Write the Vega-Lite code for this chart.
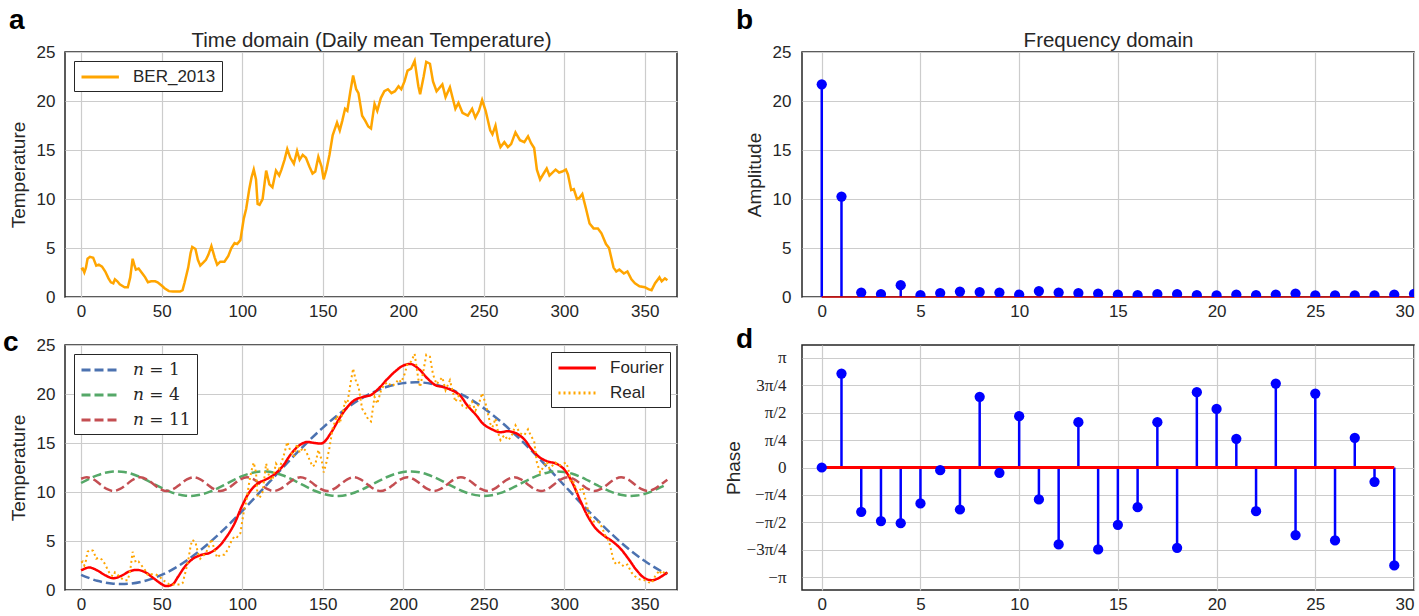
{
  "$schema": "https://vega.github.io/schema/vega-lite/v6.json",
  "background": "white",
  "padding": {"left": 2, "top": 6, "right": 0, "bottom": 0},
  "config": {
    "font": "Liberation Sans",
    "view": {"stroke": "#262626", "strokeWidth": 1.5},
    "axis": {"grid": true, "gridColor": "#cccccc", "gridWidth": 1.2, "domain": false, "ticks": false, "labelFontSize": 17, "labelColor": "#262626", "titleFontSize": 19, "titleFontWeight": "normal", "titleColor": "#262626", "labelFont": "Liberation Sans", "titleFont": "Liberation Sans", "tickCount": 20},
    "axisX": {"labelPadding": 6},
    "axisY": {"labelPadding": 10, "minExtent": 30, "maxExtent": 30},
    "legend": {"labelFontSize": 17, "labelColor": "#262626", "strokeColor": "#262626", "fillColor": "white", "padding": 6, "offset": 9, "symbolStrokeWidth": 3, "symbolType": "M-1,0H3.4", "symbolSize": 289, "labelOffset": 33, "rowPadding": 7, "strokeWidth": 1},
    "title": {"fontSize": 28, "fontWeight": "bold", "anchor": "start", "frame": "bounds", "color": "black", "offset": 0, "font": "Liberation Sans"}
  },
  "datasets": {
    "ber": [
      {"d":0,"t":2.8},{"d":1,"t":2.9},{"d":2,"t":2.5},{"d":3,"t":3.0},{"d":4,"t":3.9},{"d":5.5,"t":4.1},{"d":7.5,"t":4.0},{"d":9.4,"t":3.2},{"d":11,"t":3.3},{"d":13,"t":3.1},{"d":15,"t":2.6},{"d":17,"t":1.9},{"d":18.5,"t":1.5},{"d":20,"t":1.4},{"d":21,"t":1.8},{"d":22.5,"t":1.6},{"d":24,"t":1.3},{"d":27,"t":1.0},{"d":29,"t":1.0},{"d":30.5,"t":2.0},{"d":32,"t":3.9},{"d":33,"t":3.3},{"d":34,"t":2.8},{"d":35.7,"t":2.9},{"d":38.5,"t":2.3},{"d":39.8,"t":2.0},{"d":41.5,"t":1.5},{"d":43.5,"t":1.6},{"d":46,"t":1.6},{"d":47.5,"t":1.5},{"d":49,"t":1.3},{"d":50.5,"t":1.1},{"d":51.8,"t":0.9},{"d":54.5,"t":0.6},{"d":57,"t":0.55},{"d":61.5,"t":0.55},{"d":63,"t":0.7},{"d":64.3,"t":1.5},{"d":66.5,"t":3.0},{"d":68,"t":4.5},{"d":69,"t":5.1},{"d":71,"t":4.9},{"d":72.5,"t":3.8},{"d":74,"t":3.2},{"d":75.8,"t":3.5},{"d":77.5,"t":3.8},{"d":79,"t":4.3},{"d":80.9,"t":5.2},{"d":83,"t":4.0},{"d":84.5,"t":3.3},{"d":86.4,"t":3.6},{"d":89,"t":3.6},{"d":91.4,"t":4.2},{"d":93.3,"t":5.0},{"d":95.3,"t":5.5},{"d":96.9,"t":5.4},{"d":98.9,"t":5.8},{"d":101,"t":8.0},{"d":102.5,"t":9.0},{"d":104.4,"t":11.0},{"d":105.8,"t":12.2},{"d":107.2,"t":13.0},{"d":108.6,"t":12.0},{"d":109.6,"t":9.5},{"d":110.8,"t":9.4},{"d":112.7,"t":10.0},{"d":114.9,"t":12.9},{"d":116.9,"t":11.5},{"d":118.8,"t":11.2},{"d":121,"t":12.9},{"d":123,"t":12.4},{"d":124.4,"t":13.0},{"d":126.3,"t":14.0},{"d":128,"t":15.1},{"d":129.9,"t":14.2},{"d":132.1,"t":13.6},{"d":134.1,"t":14.9},{"d":135.7,"t":14.0},{"d":137.6,"t":14.5},{"d":139.6,"t":14.2},{"d":141.8,"t":13.3},{"d":143.7,"t":12.6},{"d":145.4,"t":12.8},{"d":147.3,"t":14.3},{"d":149.3,"t":13.3},{"d":150.6,"t":12.0},{"d":152.3,"t":13.0},{"d":154.2,"t":14.5},{"d":156.2,"t":16.5},{"d":158.9,"t":17.8},{"d":160.6,"t":17.0},{"d":162.2,"t":18.0},{"d":163.9,"t":19.2},{"d":165.3,"t":19.0},{"d":167.2,"t":21.0},{"d":168.9,"t":22.6},{"d":170.8,"t":21.2},{"d":172.2,"t":20.8},{"d":174.5,"t":18.5},{"d":176.4,"t":18.0},{"d":178.3,"t":17.4},{"d":180,"t":17.2},{"d":182.2,"t":19.7},{"d":183.9,"t":19.0},{"d":186.1,"t":20.3},{"d":188.3,"t":21.0},{"d":190.5,"t":21.2},{"d":192.7,"t":20.8},{"d":194.9,"t":21.0},{"d":197.1,"t":21.5},{"d":198.8,"t":21.2},{"d":200.8,"t":22.0},{"d":202.7,"t":23.1},{"d":204.9,"t":23.3},{"d":207.1,"t":24.1},{"d":209.4,"t":21.5},{"d":210.5,"t":20.7},{"d":212.7,"t":22.5},{"d":214.3,"t":24.0},{"d":216.6,"t":23.8},{"d":218.5,"t":22.0},{"d":220.7,"t":21.0},{"d":224.3,"t":21.7},{"d":226.3,"t":20.4},{"d":229,"t":21.4},{"d":232.4,"t":19.2},{"d":234.3,"t":19.8},{"d":236.8,"t":18.8},{"d":240.1,"t":18.5},{"d":242.8,"t":19.2},{"d":244.8,"t":18.3},{"d":247,"t":19.0},{"d":249,"t":20.1},{"d":251.2,"t":19.0},{"d":254,"t":17.0},{"d":255.4,"t":16.6},{"d":257.3,"t":17.5},{"d":259,"t":16.0},{"d":260.4,"t":15.3},{"d":262.8,"t":15.8},{"d":265,"t":15.3},{"d":267,"t":15.6},{"d":269.7,"t":16.8},{"d":272.5,"t":16.0},{"d":275.2,"t":15.8},{"d":277.5,"t":16.4},{"d":279.4,"t":15.7},{"d":281.3,"t":15.2},{"d":283,"t":13.0},{"d":285,"t":12.0},{"d":287.2,"t":12.6},{"d":289.1,"t":13.1},{"d":290.8,"t":12.4},{"d":292.7,"t":12.7},{"d":294.6,"t":13.0},{"d":296.8,"t":12.7},{"d":298.7,"t":12.8},{"d":301,"t":13.0},{"d":302.3,"t":12.5},{"d":304.3,"t":10.9},{"d":305.9,"t":11.0},{"d":307.9,"t":10.0},{"d":309.3,"t":10.1},{"d":311.2,"t":10.5},{"d":313.5,"t":9.0},{"d":315.7,"t":7.5},{"d":318.2,"t":7.0},{"d":320.9,"t":7.0},{"d":323.1,"t":6.5},{"d":325.9,"t":5.4},{"d":327.8,"t":5.0},{"d":330.6,"t":3.0},{"d":332.3,"t":2.6},{"d":334.2,"t":2.8},{"d":337,"t":2.4},{"d":339.2,"t":2.6},{"d":341.7,"t":1.8},{"d":343.9,"t":1.4},{"d":346.7,"t":1.1},{"d":350,"t":1.0},{"d":352.2,"t":0.8},{"d":354.2,"t":0.7},{"d":356.4,"t":1.4},{"d":359.1,"t":2.0},{"d":360.5,"t":1.6},{"d":362.5,"t":1.9},{"d":364,"t":1.7}
    ],
    "fourier": [
      {"d":0,"t":2.0},{"d":5,"t":2.3},{"d":10,"t":2.0},{"d":15,"t":1.5},{"d":20,"t":1.2},{"d":25,"t":1.45},{"d":30,"t":1.9},{"d":35,"t":2.05},{"d":40,"t":1.8},{"d":45,"t":1.2},{"d":50,"t":0.6},{"d":53,"t":0.4},{"d":57,"t":0.6},{"d":60,"t":1.3},{"d":65,"t":2.5},{"d":70,"t":3.25},{"d":75,"t":3.6},{"d":80,"t":3.8},{"d":85,"t":4.35},{"d":90,"t":5.35},{"d":95,"t":6.7},{"d":100,"t":8.6},{"d":105,"t":10.1},{"d":110,"t":10.9},{"d":115,"t":11.3},{"d":120,"t":11.8},{"d":125,"t":12.6},{"d":130,"t":13.8},{"d":135,"t":14.7},{"d":140,"t":15.1},{"d":145,"t":15.0},{"d":150,"t":15.0},{"d":155,"t":16.0},{"d":160,"t":17.4},{"d":165,"t":18.6},{"d":170,"t":19.4},{"d":175,"t":19.7},{"d":180,"t":19.9},{"d":185,"t":20.6},{"d":190,"t":21.5},{"d":195,"t":22.3},{"d":200,"t":22.9},{"d":205,"t":23.05},{"d":210,"t":22.5},{"d":215,"t":21.6},{"d":220,"t":20.9},{"d":225,"t":20.7},{"d":230,"t":20.4},{"d":235,"t":19.9},{"d":240,"t":18.8},{"d":245,"t":17.9},{"d":250,"t":16.9},{"d":255,"t":16.4},{"d":260,"t":16.1},{"d":265,"t":16.2},{"d":270,"t":16.0},{"d":275,"t":15.4},{"d":280,"t":14.3},{"d":285,"t":13.5},{"d":290,"t":13.1},{"d":295,"t":12.9},{"d":300,"t":12.3},{"d":305,"t":10.95},{"d":310,"t":9.1},{"d":315,"t":7.4},{"d":320,"t":6.2},{"d":325,"t":5.5},{"d":330,"t":4.95},{"d":335,"t":4.2},{"d":340,"t":3.15},{"d":345,"t":2.0},{"d":350,"t":1.2},{"d":355,"t":1.0},{"d":360,"t":1.35},{"d":364,"t":1.8}
    ],
    "comps": [
      {"s":"𝑛 = 1","d":0,"t":1.54},{"s":"𝑛 = 1","d":10,"t":0.94},{"s":"𝑛 = 1","d":20,"t":0.64},{"s":"𝑛 = 1","d":30,"t":0.64},{"s":"𝑛 = 1","d":40,"t":0.94},{"s":"𝑛 = 1","d":50,"t":1.54},{"s":"𝑛 = 1","d":60,"t":2.41},{"s":"𝑛 = 1","d":70,"t":3.54},{"s":"𝑛 = 1","d":80,"t":4.88},{"s":"𝑛 = 1","d":90,"t":6.4},{"s":"𝑛 = 1","d":100,"t":8.06},{"s":"𝑛 = 1","d":110,"t":9.8},{"s":"𝑛 = 1","d":120,"t":11.56},{"s":"𝑛 = 1","d":130,"t":13.32},{"s":"𝑛 = 1","d":140,"t":14.99},{"s":"𝑛 = 1","d":150,"t":16.55},{"s":"𝑛 = 1","d":160,"t":17.94},{"s":"𝑛 = 1","d":170,"t":19.13},{"s":"𝑛 = 1","d":180,"t":20.07},{"s":"𝑛 = 1","d":190,"t":20.74},{"s":"𝑛 = 1","d":200,"t":21.11},{"s":"𝑛 = 1","d":210,"t":21.19},{"s":"𝑛 = 1","d":220,"t":20.96},{"s":"𝑛 = 1","d":230,"t":20.44},{"s":"𝑛 = 1","d":240,"t":19.63},{"s":"𝑛 = 1","d":250,"t":18.56},{"s":"𝑛 = 1","d":260,"t":17.27},{"s":"𝑛 = 1","d":270,"t":15.79},{"s":"𝑛 = 1","d":280,"t":14.17},{"s":"𝑛 = 1","d":290,"t":12.45},{"s":"𝑛 = 1","d":300,"t":10.68},{"s":"𝑛 = 1","d":310,"t":8.92},{"s":"𝑛 = 1","d":320,"t":7.22},{"s":"𝑛 = 1","d":330,"t":5.62},{"s":"𝑛 = 1","d":340,"t":4.18},{"s":"𝑛 = 1","d":350,"t":2.95},{"s":"𝑛 = 1","d":360,"t":1.94},{"s":"𝑛 = 1","d":364,"t":1.61},
      {"s":"𝑛 = 4","d":0,"t":10.92},{"s":"𝑛 = 4","d":5,"t":11.34},{"s":"𝑛 = 4","d":10,"t":11.7},{"s":"𝑛 = 4","d":15,"t":11.96},{"s":"𝑛 = 4","d":20,"t":12.09},{"s":"𝑛 = 4","d":25,"t":12.07},{"s":"𝑛 = 4","d":30,"t":11.92},{"s":"𝑛 = 4","d":35,"t":11.63},{"s":"𝑛 = 4","d":40,"t":11.26},{"s":"𝑛 = 4","d":45,"t":10.83},{"s":"𝑛 = 4","d":50,"t":10.41},{"s":"𝑛 = 4","d":55,"t":10.04},{"s":"𝑛 = 4","d":60,"t":9.77},{"s":"𝑛 = 4","d":65,"t":9.62},{"s":"𝑛 = 4","d":70,"t":9.62},{"s":"𝑛 = 4","d":75,"t":9.76},{"s":"𝑛 = 4","d":80,"t":10.03},{"s":"𝑛 = 4","d":85,"t":10.39},{"s":"𝑛 = 4","d":90,"t":10.81},{"s":"𝑛 = 4","d":95,"t":11.24},{"s":"𝑛 = 4","d":100,"t":11.62},{"s":"𝑛 = 4","d":105,"t":11.9},{"s":"𝑛 = 4","d":110,"t":12.07},{"s":"𝑛 = 4","d":115,"t":12.09},{"s":"𝑛 = 4","d":120,"t":11.97},{"s":"𝑛 = 4","d":125,"t":11.71},{"s":"𝑛 = 4","d":130,"t":11.36},{"s":"𝑛 = 4","d":135,"t":10.94},{"s":"𝑛 = 4","d":140,"t":10.52},{"s":"𝑛 = 4","d":145,"t":10.13},{"s":"𝑛 = 4","d":150,"t":9.83},{"s":"𝑛 = 4","d":155,"t":9.64},{"s":"𝑛 = 4","d":160,"t":9.6},{"s":"𝑛 = 4","d":165,"t":9.71},{"s":"𝑛 = 4","d":170,"t":9.95},{"s":"𝑛 = 4","d":175,"t":10.29},{"s":"𝑛 = 4","d":180,"t":10.71},{"s":"𝑛 = 4","d":185,"t":11.13},{"s":"𝑛 = 4","d":190,"t":11.53},{"s":"𝑛 = 4","d":195,"t":11.84},{"s":"𝑛 = 4","d":200,"t":12.04},{"s":"𝑛 = 4","d":205,"t":12.1},{"s":"𝑛 = 4","d":210,"t":12.01},{"s":"𝑛 = 4","d":215,"t":11.79},{"s":"𝑛 = 4","d":220,"t":11.45},{"s":"𝑛 = 4","d":225,"t":11.05},{"s":"𝑛 = 4","d":230,"t":10.62},{"s":"𝑛 = 4","d":235,"t":10.22},{"s":"𝑛 = 4","d":240,"t":9.89},{"s":"𝑛 = 4","d":245,"t":9.68},{"s":"𝑛 = 4","d":250,"t":9.6},{"s":"𝑛 = 4","d":255,"t":9.67},{"s":"𝑛 = 4","d":260,"t":9.88},{"s":"𝑛 = 4","d":265,"t":10.2},{"s":"𝑛 = 4","d":270,"t":10.6},{"s":"𝑛 = 4","d":275,"t":11.03},{"s":"𝑛 = 4","d":280,"t":11.43},{"s":"𝑛 = 4","d":285,"t":11.77},{"s":"𝑛 = 4","d":290,"t":12.0},{"s":"𝑛 = 4","d":295,"t":12.1},{"s":"𝑛 = 4","d":300,"t":12.05},{"s":"𝑛 = 4","d":305,"t":11.86},{"s":"𝑛 = 4","d":310,"t":11.55},{"s":"𝑛 = 4","d":315,"t":11.15},{"s":"𝑛 = 4","d":320,"t":10.73},{"s":"𝑛 = 4","d":325,"t":10.31},{"s":"𝑛 = 4","d":330,"t":9.96},{"s":"𝑛 = 4","d":335,"t":9.72},{"s":"𝑛 = 4","d":340,"t":9.61},{"s":"𝑛 = 4","d":345,"t":9.64},{"s":"𝑛 = 4","d":350,"t":9.81},{"s":"𝑛 = 4","d":355,"t":10.11},{"s":"𝑛 = 4","d":360,"t":10.49},{"s":"𝑛 = 4","d":364,"t":10.83},
      {"s":"𝑛 = 11","d":0,"t":11.35},{"s":"𝑛 = 11","d":3.5,"t":11.5},{"s":"𝑛 = 11","d":7.6,"t":11.29},{"s":"𝑛 = 11","d":11.8,"t":10.8},{"s":"𝑛 = 11","d":15.9,"t":10.31},{"s":"𝑛 = 11","d":20.1,"t":10.1},{"s":"𝑛 = 11","d":24.2,"t":10.31},{"s":"𝑛 = 11","d":28.4,"t":10.8},{"s":"𝑛 = 11","d":32.5,"t":11.29},{"s":"𝑛 = 11","d":36.7,"t":11.5},{"s":"𝑛 = 11","d":40.8,"t":11.29},{"s":"𝑛 = 11","d":45.0,"t":10.8},{"s":"𝑛 = 11","d":49.1,"t":10.31},{"s":"𝑛 = 11","d":53.3,"t":10.1},{"s":"𝑛 = 11","d":57.4,"t":10.31},{"s":"𝑛 = 11","d":61.6,"t":10.8},{"s":"𝑛 = 11","d":65.7,"t":11.29},{"s":"𝑛 = 11","d":69.9,"t":11.5},{"s":"𝑛 = 11","d":74.0,"t":11.29},{"s":"𝑛 = 11","d":78.2,"t":10.8},{"s":"𝑛 = 11","d":82.3,"t":10.31},{"s":"𝑛 = 11","d":86.5,"t":10.1},{"s":"𝑛 = 11","d":90.6,"t":10.31},{"s":"𝑛 = 11","d":94.7,"t":10.8},{"s":"𝑛 = 11","d":98.9,"t":11.29},{"s":"𝑛 = 11","d":103.0,"t":11.5},{"s":"𝑛 = 11","d":107.2,"t":11.29},{"s":"𝑛 = 11","d":111.3,"t":10.8},{"s":"𝑛 = 11","d":115.5,"t":10.31},{"s":"𝑛 = 11","d":119.6,"t":10.1},{"s":"𝑛 = 11","d":123.8,"t":10.31},{"s":"𝑛 = 11","d":127.9,"t":10.8},{"s":"𝑛 = 11","d":132.1,"t":11.29},{"s":"𝑛 = 11","d":136.2,"t":11.5},{"s":"𝑛 = 11","d":140.4,"t":11.29},{"s":"𝑛 = 11","d":144.5,"t":10.8},{"s":"𝑛 = 11","d":148.7,"t":10.31},{"s":"𝑛 = 11","d":152.8,"t":10.1},{"s":"𝑛 = 11","d":157.0,"t":10.31},{"s":"𝑛 = 11","d":161.1,"t":10.8},{"s":"𝑛 = 11","d":165.3,"t":11.29},{"s":"𝑛 = 11","d":169.4,"t":11.5},{"s":"𝑛 = 11","d":173.5,"t":11.29},{"s":"𝑛 = 11","d":177.7,"t":10.8},{"s":"𝑛 = 11","d":181.8,"t":10.31},{"s":"𝑛 = 11","d":186.0,"t":10.1},{"s":"𝑛 = 11","d":190.1,"t":10.31},{"s":"𝑛 = 11","d":194.3,"t":10.8},{"s":"𝑛 = 11","d":198.4,"t":11.29},{"s":"𝑛 = 11","d":202.6,"t":11.5},{"s":"𝑛 = 11","d":206.7,"t":11.29},{"s":"𝑛 = 11","d":210.9,"t":10.8},{"s":"𝑛 = 11","d":215.0,"t":10.31},{"s":"𝑛 = 11","d":219.2,"t":10.1},{"s":"𝑛 = 11","d":223.3,"t":10.31},{"s":"𝑛 = 11","d":227.5,"t":10.8},{"s":"𝑛 = 11","d":231.6,"t":11.29},{"s":"𝑛 = 11","d":235.8,"t":11.5},{"s":"𝑛 = 11","d":239.9,"t":11.29},{"s":"𝑛 = 11","d":244.1,"t":10.8},{"s":"𝑛 = 11","d":248.2,"t":10.31},{"s":"𝑛 = 11","d":252.4,"t":10.1},{"s":"𝑛 = 11","d":256.5,"t":10.31},{"s":"𝑛 = 11","d":260.6,"t":10.8},{"s":"𝑛 = 11","d":264.8,"t":11.29},{"s":"𝑛 = 11","d":268.9,"t":11.5},{"s":"𝑛 = 11","d":273.1,"t":11.29},{"s":"𝑛 = 11","d":277.2,"t":10.8},{"s":"𝑛 = 11","d":281.4,"t":10.31},{"s":"𝑛 = 11","d":285.5,"t":10.1},{"s":"𝑛 = 11","d":289.7,"t":10.31},{"s":"𝑛 = 11","d":293.8,"t":10.8},{"s":"𝑛 = 11","d":298.0,"t":11.29},{"s":"𝑛 = 11","d":302.1,"t":11.5},{"s":"𝑛 = 11","d":306.3,"t":11.29},{"s":"𝑛 = 11","d":310.4,"t":10.8},{"s":"𝑛 = 11","d":314.6,"t":10.31},{"s":"𝑛 = 11","d":318.7,"t":10.1},{"s":"𝑛 = 11","d":322.9,"t":10.31},{"s":"𝑛 = 11","d":327.0,"t":10.8},{"s":"𝑛 = 11","d":331.2,"t":11.29},{"s":"𝑛 = 11","d":335.3,"t":11.5},{"s":"𝑛 = 11","d":339.5,"t":11.29},{"s":"𝑛 = 11","d":343.6,"t":10.8},{"s":"𝑛 = 11","d":347.7,"t":10.31},{"s":"𝑛 = 11","d":351.9,"t":10.1},{"s":"𝑛 = 11","d":356.0,"t":10.31},{"s":"𝑛 = 11","d":360.2,"t":10.8},{"s":"𝑛 = 11","d":364.0,"t":11.25}
    ],
    "amp": [
      {"k":0,"a":21.7},{"k":1,"a":10.25},{"k":2,"a":0.45},{"k":3,"a":0.3},{"k":4,"a":1.2},{"k":5,"a":0.2},{"k":6,"a":0.4},{"k":7,"a":0.55},{"k":8,"a":0.5},{"k":9,"a":0.45},{"k":10,"a":0.25},{"k":11,"a":0.6},{"k":12,"a":0.45},{"k":13,"a":0.4},{"k":14,"a":0.35},{"k":15,"a":0.25},{"k":16,"a":0.2},{"k":17,"a":0.3},{"k":18,"a":0.3},{"k":19,"a":0.2},{"k":20,"a":0.17},{"k":21,"a":0.25},{"k":22,"a":0.2},{"k":23,"a":0.25},{"k":24,"a":0.35},{"k":25,"a":0.17},{"k":26,"a":0.17},{"k":27,"a":0.17},{"k":28,"a":0.17},{"k":29,"a":0.25},{"k":30,"a":0.33}
    ],
    "phase": [
      {"k":0,"p":0},{"k":1,"p":2.685},{"k":2,"p":-1.266},{"k":3,"p":-1.532},{"k":4,"p":-1.59},{"k":5,"p":-1.028},{"k":6,"p":-0.076},{"k":7,"p":-1.2},{"k":8,"p":2.018},{"k":9,"p":-0.152},{"k":10,"p":1.466},{"k":11,"p":-0.914},{"k":12,"p":-2.199},{"k":13,"p":1.295},{"k":14,"p":-2.342},{"k":15,"p":-1.637},{"k":16,"p":-1.133},{"k":17,"p":1.295},{"k":18,"p":-2.294},{"k":19,"p":2.151},{"k":20,"p":1.675},{"k":21,"p":0.819},{"k":22,"p":-1.247},{"k":23,"p":2.399},{"k":24,"p":-1.932},{"k":25,"p":2.113},{"k":26,"p":-2.085},{"k":27,"p":0.847},{"k":28,"p":-0.409},{"k":29,"p":-2.799}
    ]
  },
  "columns": 2,
  "align": "each",
  "spacing": {"row": 5, "column": 45},
  "resolve": {"scale": {"color": "independent", "stroke": "independent", "strokeDash": "independent"}, "legend": {"color": "independent", "stroke": "independent", "strokeDash": "independent"}},
  "concat": [
    {
      "width": 612, "height": 245,
      "title": {"text": "a", "dx": 0, "dy": 9},
      "layer": [
        {
          "data": {"name": "ber"},
          "mark": {"type": "line", "strokeWidth": 2.5},
          "encoding": {
            "x": {"field": "d", "type": "quantitative", "scale": {"domain": [-10, 370], "nice": false, "zero": false}, "axis": {"values": [0,50,100,150,200,250,300,350], "title": null}},
            "y": {"field": "t", "type": "quantitative", "scale": {"domain": [0, 25], "nice": false}, "axis": {"values": [0,5,10,15,20,25], "title": "Temperature", "titlePadding": 7}},
            "color": {"datum": "BER_2013", "scale": {"range": ["#ffa500"]}, "legend": {"orient": "top-left", "title": null}}
          }
        },
        {
          "data": {"values": [{"d": 0}]},
          "mark": {"type": "rule", "opacity": 0},
          "encoding": {
            "x": {"field": "d", "type": "quantitative", "scale": {"domain": [-10, 370], "nice": false, "zero": false}, "axis": {"orient": "top", "title": "Time domain (Daily mean Temperature)", "labels": false, "grid": false, "titlePadding": 2, "minExtent": 0, "maxExtent": 0, "titleFontSize": 20.5}}
          }
        }
      ],
      "resolve": {"axis": {"x": "independent"}}
    },
    {
      "width": 612, "height": 245,
      "title": {"text": "b", "dx": -9, "dy": 9},
      "layer": [
        {
          "data": {"name": "amp"},
          "mark": {"type": "rule", "color": "#0000ff", "strokeWidth": 2.5, "clip": true},
          "encoding": {
            "x": {"field": "k", "type": "quantitative", "scale": {"domain": [-1, 30], "nice": false, "zero": false}, "axis": {"values": [0,5,10,15,20,25,30], "title": null}},
            "y": {"field": "a", "type": "quantitative", "scale": {"domain": [0, 25], "nice": false}, "axis": {"values": [0,5,10,15,20,25], "title": "Amplitude", "titlePadding": 8, "labelPadding": 11}},
            "y2": {"datum": 0}
          }
        },
        {
          "data": {"values": [{"z": 0}]},
          "mark": {"type": "rule", "color": "#cc0000", "strokeWidth": 1.5},
          "encoding": {"x": {"datum": 0, "axis": null}, "x2": {"datum": 30}, "y": {"datum": 0}}
        },
        {
          "data": {"name": "amp"},
          "mark": {"type": "point", "filled": true, "color": "#0000ff", "size": 105, "opacity": 1, "clip": true},
          "encoding": {"x": {"field": "k", "type": "quantitative", "axis": null}, "y": {"field": "a", "type": "quantitative"}}
        },
        {
          "data": {"values": [{"k": 0}]},
          "mark": {"type": "rule", "opacity": 0},
          "encoding": {
            "x": {"field": "k", "type": "quantitative", "axis": {"orient": "top", "title": "Frequency domain", "labels": false, "grid": false, "titlePadding": 2, "minExtent": 0, "maxExtent": 0, "titleFontSize": 20.5}}
          }
        }
      ],
      "resolve": {"axis": {"x": "independent"}}
    },
    {
      "width": 612, "height": 245,
      "title": {"text": "c", "dx": -6, "dy": 25},
      "layer": [
        {
          "data": {"name": "comps"},
          "mark": {"type": "line", "strokeWidth": 2.5, "strokeDash": [9, 4], "interpolate": "catmull-rom"},
          "encoding": {
            "x": {"field": "d", "type": "quantitative", "scale": {"domain": [-10, 370], "nice": false, "zero": false}, "axis": {"values": [0,50,100,150,200,250,300,350], "title": null}},
            "y": {"field": "t", "type": "quantitative", "scale": {"domain": [0, 25], "nice": false}, "axis": {"values": [0,5,10,15,20,25], "title": "Temperature", "titlePadding": 7}},
            "color": {"field": "s", "type": "nominal", "scale": {"domain": ["𝑛 = 1", "𝑛 = 4", "𝑛 = 11"], "range": ["#4c72b0", "#55a868", "#c44e52"]}, "legend": {"orient": "top-left", "title": null, "symbolDash": [9, 4], "labelFont": "DejaVu Serif"}}
          }
        },
        {
          "data": {"name": "fourier"},
          "mark": {"type": "line", "strokeWidth": 2.5, "interpolate": "catmull-rom"},
          "encoding": {
            "x": {"field": "d", "type": "quantitative"},
            "y": {"field": "t", "type": "quantitative"},
            "stroke": {"datum": "Fourier", "scale": {"domain": ["Fourier", "Real"], "range": ["#ff0000", "#ffa500"]}, "legend": {"orient": "top-right", "title": null, "offset": 7}},
            "strokeDash": {"datum": "Fourier", "scale": {"domain": ["Fourier", "Real"], "range": [[1, 0], [2, 3]]}, "legend": {"orient": "top-right", "title": null, "offset": 7}}
          }
        },
        {
          "data": {"name": "ber"},
          "mark": {"type": "line", "strokeWidth": 2},
          "encoding": {
            "x": {"field": "d", "type": "quantitative"},
            "y": {"field": "t", "type": "quantitative"},
            "stroke": {"datum": "Real"},
            "strokeDash": {"datum": "Real"}
          }
        }
      ]
    },
    {
      "width": 612, "height": 245,
      "title": {"text": "d", "dx": 12, "dy": 13},
      "data": {"name": "phase"},
      "layer": [
        {
          "mark": {"type": "rule", "color": "#0000ff", "strokeWidth": 2.5},
          "encoding": {
            "x": {"field": "k", "type": "quantitative", "scale": {"domain": [-1, 30], "nice": false, "zero": false}, "axis": {"values": [0,5,10,15,20,25,30], "title": null}},
            "y": {"field": "p", "type": "quantitative", "scale": {"domain": [-3.5, 3.5], "nice": false, "zero": false}, "axis": {"values": [-3.14159265, -2.35619449, -1.57079633, -0.78539816, 0, 0.78539816, 1.57079633, 2.35619449, 3.14159265], "tickCount": 20, "labelExpr": "['−π','−3π/4','−π/2','−π/4','0','π/4','π/2','3π/4','π'][round(datum.value/PI*4)+4]", "labelFont": "Liberation Serif", "labelFontSize": 17, "labelPadding": 16, "labelOverlap": false, "title": "Phase", "titlePadding": 29}},
            "y2": {"datum": 0}
          }
        },
        {
          "data": {"values": [{"z": 0}]},
          "mark": {"type": "rule", "color": "#ff0000", "strokeWidth": 3},
          "encoding": {"x": {"datum": 0}, "x2": {"datum": 29}, "y": {"datum": 0}}
        },
        {
          "mark": {"type": "point", "filled": true, "color": "#0000ff", "size": 105, "opacity": 1},
          "encoding": {"x": {"field": "k", "type": "quantitative"}, "y": {"field": "p", "type": "quantitative"}}
        }
      ]
    }
  ]
}
